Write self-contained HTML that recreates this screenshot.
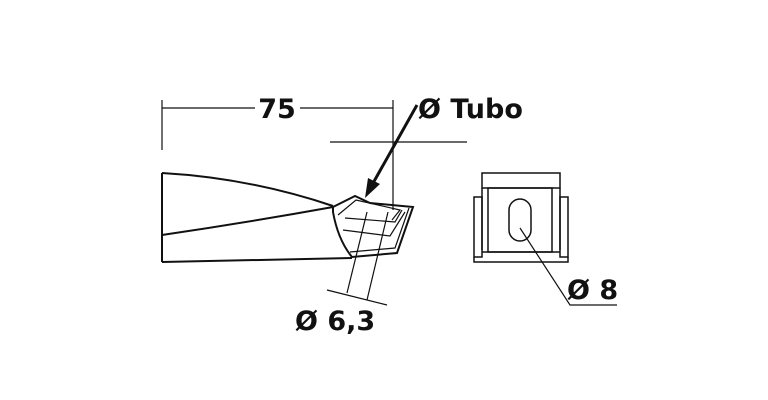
<!DOCTYPE html>
<html><head><style>
html,body{margin:0;padding:0;background:#fff;width:768px;height:400px;overflow:hidden}
svg{display:block}
text{font-family:"DejaVu Sans","Liberation Sans",sans-serif;font-weight:bold;fill:#111}
</style></head><body>
<svg width="768" height="400" viewBox="0 0 768 400">
<rect x="0" y="0" width="768" height="400" fill="#fff"/>
<g stroke="#111" fill="none" stroke-width="1.2">
<line x1="162" y1="100" x2="162" y2="150"/>
<line x1="162" y1="108" x2="255" y2="108"/>
<line x1="300" y1="108" x2="393" y2="108"/>
<line x1="393" y1="100" x2="393" y2="210"/>
<line x1="330" y1="142" x2="467" y2="142"/>
</g>
<line x1="417" y1="105" x2="372" y2="185" stroke="#111" stroke-width="3"/>
<polygon points="365,198 368,178 380,184" fill="#111"/>
<text x="277" y="118" font-size="27" text-anchor="middle">75</text>
<text x="418" y="118" font-size="27">Ø Tubo</text>
<g stroke="#111" fill="none" stroke-width="2">
<path d="M162,173 L162,262"/>
<path d="M162,173 Q250,178 333,206"/>
<path d="M162,235 Q250,222 333,207"/>
<path d="M162,262 L352,258"/>
<path d="M333,207 L355,196 L370,203 L413,207 L397,253 L352,257 Q338,240 333,212 Z"/>
</g>
<g stroke="#111" fill="none" stroke-width="1.2">
<path d="M338,215 L356,200 L400,210 L392,220"/>
<path d="M345,218 L395,222 L402,210"/>
<path d="M343,230 L390,236 L405,212"/>
<path d="M350,252 L395,248 L409,208"/>
<line x1="367" y1="212" x2="347" y2="293"/>
<line x1="388" y1="212" x2="367" y2="300"/>
<line x1="327" y1="290" x2="387" y2="305"/>
</g>
<text x="295" y="330" font-size="27">Ø 6,3</text>
<g stroke="#111" fill="none" stroke-width="1.5">
<rect x="482" y="173" width="78" height="15"/>
<path d="M482,188 L482,250 M560,188 L560,250"/>
<rect x="488" y="188" width="64" height="64"/>
<rect x="474" y="197" width="8" height="60"/>
<rect x="560" y="197" width="8" height="60"/>
<path d="M474,257 L474,262 L568,262 L568,257"/>
<path d="M482,252 L560,252"/>
<rect x="509" y="199" width="22" height="42" rx="11" ry="11"/>
</g>
<g stroke="#111" fill="none" stroke-width="1.2">
<path d="M520,228 L570,305 L617,305"/>
</g>
<text x="567" y="299" font-size="27">Ø 8</text>
</svg>
</body></html>
